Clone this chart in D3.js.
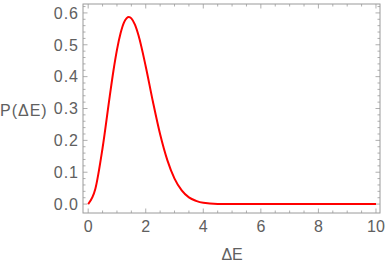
<!DOCTYPE html>
<html>
<head>
<meta charset="utf-8">
<script src="https://cdn.jsdelivr.net/npm/d3@7"></script>
<style>
  body { margin: 0; background: #fff; }
  text { font-family: "Liberation Sans", Arial, sans-serif; }
</style>
</head>
<body>
<svg id="chart"></svg>
<script>
// values
const energyGap = [0, 0.25, 0.5, 0.75, 0.875, 1.0, 1.125, 1.25, 1.414, 1.5, 1.625, 1.75, 2.0, 2.25, 2.5, 2.75, 3.0, 3.25, 3.5, 3.75, 4.0, 4.5, 5.0, 6.0, 7.0, 8.0, 9.0, 10.0];
const probability = [0, 0.048, 0.176, 0.339, 0.417, 0.484, 0.536, 0.571, 0.587, 0.583, 0.563, 0.529, 0.432, 0.321, 0.219, 0.138, 0.080, 0.043, 0.021, 0.010, 0.004, 0.0006, 0.0001, 0, 0, 0, 0, 0];
const xTicks = [0, 2, 4, 6, 8, 10];
const yTicks = [0.0, 0.1, 0.2, 0.3, 0.4, 0.5, 0.6];

const width = 387, height = 265;
const svg = d3.select("#chart")
    .attr("width", width)
    .attr("height", height);

// frame box
const frameL = 83, frameR = 380, frameT = 4, frameB = 213;

const x = d3.scaleLinear().domain([-0.18, 10.14]).range([frameL, frameR]);
const y = d3.scaleLinear().domain([-0.028, 0.628]).range([frameB, frameT]);

const frameColor = "#9a9a9a";
const labelColor = "#606060";

// minor + major ticks, pointing inward on all four sides
const xMinor = d3.range(0, 10.01, 0.5);
const yMinor = d3.range(0, 0.621, 0.02);

function isMajor(v, step) {
    return Math.abs(v / step - Math.round(v / step)) < 1e-6;
}

const ticks = svg.append("g").attr("stroke", frameColor).attr("stroke-width", 0.8);
xMinor.forEach(v => {
    const len = isMajor(v, 2) ? 4.5 : 2.5;
    ticks.append("line").attr("x1", x(v)).attr("x2", x(v)).attr("y1", frameB).attr("y2", frameB - len);
    ticks.append("line").attr("x1", x(v)).attr("x2", x(v)).attr("y1", frameT).attr("y2", frameT + len);
});
yMinor.forEach(v => {
    const len = isMajor(v, 0.1) ? 4.5 : 2.5;
    ticks.append("line").attr("y1", y(v)).attr("y2", y(v)).attr("x1", frameL).attr("x2", frameL + len);
    ticks.append("line").attr("y1", y(v)).attr("y2", y(v)).attr("x1", frameR).attr("x2", frameR - len);
});

svg.append("rect")
    .attr("x", frameL).attr("y", frameT)
    .attr("width", frameR - frameL).attr("height", frameB - frameT)
    .attr("fill", "none")
    .attr("stroke", frameColor)
    .attr("stroke-width", 1);

// tick labels
svg.append("g").selectAll("text")
    .data(xTicks)
    .join("text")
    .attr("x", d => x(d))
    .attr("y", frameB + 19)
    .attr("text-anchor", "middle")
    .attr("font-size", 16)
    .attr("fill", labelColor)
    .text(d => d);

svg.append("g").selectAll("text")
    .data(yTicks)
    .join("text")
    .attr("x", frameL - 4)
    .attr("y", d => y(d))
    .attr("dy", "0.36em")
    .attr("text-anchor", "end")
    .attr("font-size", 16)
    .attr("letter-spacing", 1)
    .attr("fill", labelColor)
    .text(d => d3.format(".1f")(d));

// axis labels
svg.append("text")
    .attr("x", x(5))
    .attr("y", 260)
    .attr("text-anchor", "middle")
    .attr("font-size", 16)
    .attr("fill", labelColor)
    .text("ΔE");

svg.append("text")
    .attr("x", 0)
    .attr("y", 110)
    .attr("dy", "0.36em")
    .attr("font-size", 16)
    .attr("letter-spacing", 1)
    .attr("fill", labelColor)
    .text("P(ΔE)");

// the curve
const line = d3.line()
    .x((d, i) => x(energyGap[i]))
    .y(d => y(d))
    .curve(d3.curveMonotoneX);

svg.append("path")
    .datum(probability)
    .attr("d", line)
    .attr("fill", "none")
    .attr("stroke", "#ff0000")
    .attr("stroke-width", 2);
</script>
</body>
</html>
